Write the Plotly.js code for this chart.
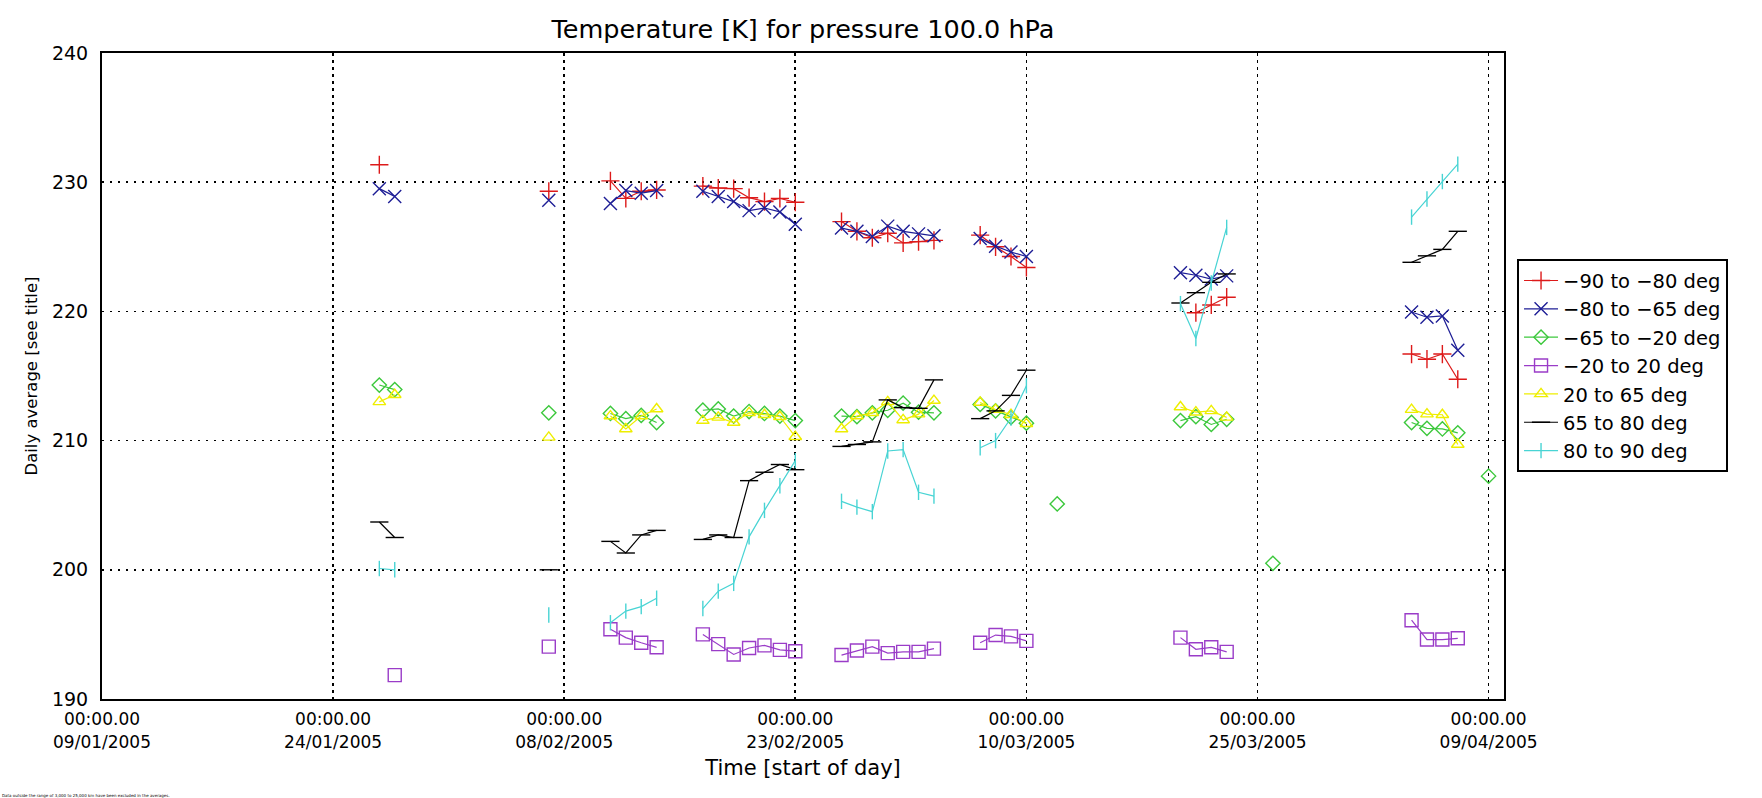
<!DOCTYPE html>
<html>
<head>
<meta charset="utf-8">
<script src="https://cdn.plot.ly/plotly-3.0.1.min.js"></script>
<style>
html,body{margin:0;padding:0;background:#ffffff;}
#chart{width:1762px;height:798px;}
</style>
</head>
<body>
<div id="chart"></div>
<script>
// Days with at least one daily average
const dates = [
  '2005-01-27','2005-01-28',
  '2005-02-07',
  '2005-02-11','2005-02-12','2005-02-13','2005-02-14',
  '2005-02-17','2005-02-18','2005-02-19','2005-02-20','2005-02-21','2005-02-22','2005-02-23',
  '2005-02-26','2005-02-27','2005-02-28','2005-03-01','2005-03-02','2005-03-03','2005-03-04',
  '2005-03-07','2005-03-08','2005-03-09','2005-03-10',
  '2005-03-12',
  '2005-03-20','2005-03-21','2005-03-22','2005-03-23',
  '2005-03-26',
  '2005-04-04','2005-04-05','2005-04-06','2005-04-07',
  '2005-04-09'
];

const seriesNames = [
  '\u221290 to \u221280 deg',
  '\u221280 to \u221265 deg',
  '\u221265 to \u221220 deg',
  '\u221220 to 20 deg',
  '20 to 65 deg',
  '65 to 80 deg',
  '80 to 90 deg'
];

const lat_m90_m80 = [
  231.35, null,
  229.3,
  230.1, 228.75, 229.3, 229.4,
  229.7, 229.55, 229.5, 228.8, 228.5, 228.75, 228.45,
  226.95, 226.2, 225.7, 226.05, 225.3, 225.4, 225.5,
  225.9, 225.0, 224.25, 223.4,
  null,
  null, 219.9, 220.5, 221.1,
  null,
  216.7, 216.3, 216.7, 214.75,
  null
];
const lat_m80_m65 = [
  229.5, 228.9,
  228.6,
  228.35, 229.35, 229.15, 229.35,
  229.3, 228.9, 228.5, 227.8, 228.0, 227.7, 226.75,
  226.45, 226.2, 225.8, 226.6, 226.2, 226.0, 225.85,
  225.65, 225.05, 224.6, 224.25,
  null,
  223.0, 222.8, 222.5, 222.75,
  null,
  219.95, 219.55, 219.65, 217.0,
  null
];
const lat_m65_m20 = [
  214.3, 213.95,
  212.15,
  212.1, 211.7, 211.95, 211.4,
  212.35, 212.45, 211.9, 212.25, 212.1, 211.9, 211.55,
  211.9, 211.85, 212.15, 212.35, 212.9, 212.2, 212.15,
  212.8, 212.3, 211.8, 211.35,
  205.1,
  211.55, 211.85, 211.25, 211.65,
  200.5,
  211.4, 210.95, 210.9, 210.6,
  207.25
];
const lat_m20_p20 = [
  null, 191.85,
  194.05,
  195.4, 194.75, 194.35, 194.0,
  195.0, 194.25, 193.45, 193.95, 194.15, 193.8, 193.7,
  193.4, 193.75, 194.05, 193.55, 193.65, 193.65, 193.9,
  194.35, 194.95, 194.85, 194.5,
  null,
  194.75, 193.85, 194.0, 193.65,
  null,
  196.1, 194.6, 194.6, 194.7,
  null
];
const lat_p20_p65 = [
  213.0, 213.55,
  210.25,
  211.9, 210.9, 211.9, 212.45,
  211.55, 211.8, 211.4, 212.15, 212.0, 211.85, 210.3,
  210.9, 211.9, 212.15, 213.0, 211.6, 212.05, 213.1,
  212.95, 212.4, 212.0, 211.3,
  null,
  212.6, 212.2, 212.3, 211.8,
  null,
  212.4, 212.05, 212.0, 209.7,
  null
];
const lat_p65_p80 = [
  203.7, 202.5,
  200.0,
  202.2, 201.3, 202.7, 203.05,
  202.35, 202.7, 202.5, 206.9, 207.55, 208.15, 207.75,
  209.55, 209.7, 209.9, 213.15, 212.55, 212.5, 214.7,
  211.7, 212.3, 213.5, 215.45,
  null,
  220.65, 221.45, 222.25, 222.9,
  null,
  223.8, 224.3, 224.8, 226.2,
  null
];
const lat_p80_p90 = [
  200.1, 200.0,
  196.5,
  195.9, 196.8, 197.15, 197.8,
  197.0, 198.35, 198.95, 202.55, 204.6, 206.5, 208.45,
  205.3, 204.85, 204.5, 209.2, 209.3, 206.0, 205.7,
  209.45, 210.0, 211.75, 214.25,
  null,
  220.6, 217.9, 222.2, 226.5,
  null,
  227.3, 228.7, 230.05, 231.4,
  null
];

const tickDates = ['2005-01-09','2005-01-24','2005-02-08','2005-02-23','2005-03-10','2005-03-25','2005-04-09'];
const tickTimes = ['00:00.00','00:00.00','00:00.00','00:00.00','00:00.00','00:00.00','00:00.00'];
const tickDays  = ['09/01/2005','24/01/2005','08/02/2005','23/02/2005','10/03/2005','25/03/2005','09/04/2005'];

const allSeries = [lat_m90_m80, lat_m80_m65, lat_m65_m20, lat_m20_p20, lat_p20_p65, lat_p65_p80, lat_p80_p90];
const colors  = ['#dd1a1a', '#1e1e96', '#3cc83c', '#9a3cc8', '#eeee00', '#000000', '#48d4d4'];
const symbols = ['cross-thin-open', 'x-thin-open', 'diamond-open', 'square-open', 'triangle-up-open', 'line-ew-open', 'line-ns-open'];
const sizes   = [13, 13, 11, 13, 11, 13, 11];

// break the line wherever consecutive days are missing
function segmented(vals) {
  const x = [], y = [];
  for (let i = 0; i < dates.length; i++) {
    if (i > 0) {
      const gap = (Date.parse(dates[i]) - Date.parse(dates[i - 1])) / 86400000;
      if (gap > 1) { x.push(dates[i]); y.push(null); }
    }
    x.push(dates[i]);
    y.push(vals[i]);
  }
  return {x, y};
}

const traces = allSeries.map((vals, k) => {
  const s = segmented(vals);
  return {
    type: 'scatter',
    mode: 'lines+markers',
    name: seriesNames[k],
    x: s.x,
    y: s.y,
    connectgaps: false,
    line: {color: colors[k], width: 1.2},
    marker: {symbol: symbols[k], size: sizes[k], color: colors[k],
             line: {color: colors[k], width: 1.4}},
    hoverinfo: 'x+y+name'
  };
});

const fontFam = 'DejaVu Sans, Verdana, sans-serif';

const layout = {
  width: 1762,
  height: 798,
  margin: {l: 102, r: 258, t: 53, b: 99, pad: 0},
  paper_bgcolor: '#ffffff',
  plot_bgcolor: '#ffffff',
  font: {family: fontFam, color: '#000000', size: 16},
  showlegend: true,
  title: {
    text: 'Temperature [K] for pressure 100.0 hPa',
    font: {family: fontFam, size: 25.5, color: '#000000'},
    xref: 'paper', x: 0.5, xanchor: 'center',
    yref: 'container', y: 1 - 29 / 798, yanchor: 'middle'
  },
  xaxis: {
    type: 'date',
    range: ['2005-01-09', '2005-04-10'],
    tickmode: 'array',
    tickvals: tickDates,
    ticktext: tickDates.map((d, i) => tickTimes[i] + '<br>' + tickDays[i]),
    tickfont: {family: fontFam, size: 17, color: '#000'},
    ticks: '',
    ticklabelstandoff: 4,
    showgrid: true,
    gridcolor: '#000000',
    gridwidth: 1.6,
    griddash: '3px,4px',
    showline: true,
    linecolor: '#000000',
    linewidth: 2,
    mirror: true,
    zeroline: false,
    title: {text: 'Time [start of day]', font: {family: fontFam, size: 21, color: '#000'}, standoff: 10}
  },
  yaxis: {
    range: [190, 240],
    tickmode: 'linear',
    tick0: 190,
    dtick: 10,
    tickfont: {family: fontFam, size: 19, color: '#000'},
    ticks: '',
    ticklabelstandoff: 8,
    showgrid: true,
    gridcolor: '#000000',
    gridwidth: 1.6,
    griddash: '2px,6px',
    showline: true,
    linecolor: '#000000',
    linewidth: 2,
    mirror: true,
    zeroline: false,
    title: {text: 'Daily average [see title]', font: {family: fontFam, size: 16.5, color: '#000'}, standoff: 10}
  },
  legend: {
    x: 1.0093, xanchor: 'left',
    y: 0.6806, yanchor: 'top',
    bgcolor: '#ffffff',
    bordercolor: '#000000',
    borderwidth: 2,
    font: {family: fontFam, size: 19.5, color: '#000'},
    itemwidth: 34,
    tracegroupgap: 0
  },
  annotations: [{
    text: 'Data outside the range of 3,000 to 25,000 km have been excluded in the averages.',
    xref: 'paper', yref: 'paper',
    x: -102 / 1402, y: -(795 - 699) / 646,
    xanchor: 'left', yanchor: 'middle',
    showarrow: false,
    font: {family: fontFam, size: 4, color: '#000'}
  }]
};

Plotly.newPlot('chart', traces, layout, {displayModeBar: false, staticPlot: true});
</script>
</body>
</html>
